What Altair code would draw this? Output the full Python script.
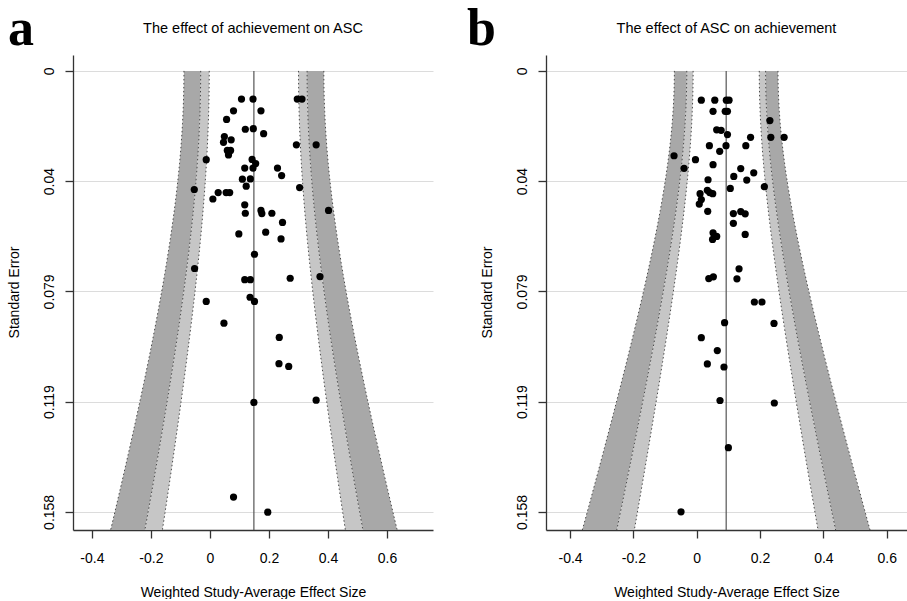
import altair as alt
import pandas as pd
import numpy as np

# ---------------- data ----------------
# Panel a: effect of achievement on ASC
a_x = [0.107, 0.146, 0.296, 0.312, 0.080, 0.173, 0.0565, 0.120, 0.147, 0.182,
       0.049, 0.072, 0.046, 0.293, 0.360, 0.059, 0.070, 0.063, -0.0125, 0.143,
       0.155, 0.118, 0.146, 0.229, 0.243, 0.110, 0.137, 0.123, 0.304, -0.053,
       0.028, 0.055, 0.067, 0.010, 0.118, 0.402, 0.173, 0.176, 0.120, 0.210,
       0.246, 0.098, 0.189, 0.241, 0.151, -0.052, 0.118, 0.137, 0.272, 0.373,
       -0.0125, 0.136, 0.151, 0.0475, 0.235, 0.234, 0.267, 0.149, 0.360, 0.080,
       0.196]
a_se = [0.0101, 0.0101, 0.0101, 0.0101, 0.0143, 0.0143, 0.0174, 0.0209, 0.0207, 0.0225,
        0.0235, 0.0247, 0.0256, 0.0265, 0.0265, 0.0285, 0.0285, 0.0301, 0.0318, 0.0317,
        0.0332, 0.0348, 0.0348, 0.0348, 0.0375, 0.0388, 0.0387, 0.0413, 0.0418, 0.0425,
        0.0436, 0.0436, 0.0436, 0.0459, 0.0480, 0.0500, 0.0500, 0.0511, 0.0510, 0.0510,
        0.0543, 0.0584, 0.0578, 0.0602, 0.0657, 0.0708, 0.0748, 0.0748, 0.0743, 0.0737,
        0.0826, 0.0811, 0.0826, 0.0904, 0.0955, 0.1049, 0.1059, 0.1188, 0.1180, 0.1527,
        0.1581]

# Panel b: effect of ASC on achievement
b_x = [0.0145, 0.057, 0.0935, 0.102, 0.0515, 0.090, 0.097, 0.231, 0.063, 0.077,
       0.097, 0.170, 0.234, 0.276, 0.040, 0.0925, 0.155, 0.0725, -0.0717, -0.004,
       -0.040, 0.0515, 0.139, 0.180, 0.117, 0.158, 0.0357, 0.2135, 0.106, 0.0335,
       0.041, 0.0505, 0.0105, 0.0145, 0.008, 0.0347, 0.1157, 0.139, 0.153, 0.1157,
       0.153, 0.0515, 0.063, 0.050, 0.1336, 0.127, 0.038, 0.0525, 0.182, 0.206,
       0.088, 0.244, 0.0145, 0.065, 0.0335, 0.086, 0.0735, 0.245, 0.100, -0.0496]
b_se = [0.0105, 0.0105, 0.0105, 0.0105, 0.0145, 0.0145, 0.0145, 0.0178, 0.0211, 0.0213,
        0.0228, 0.0238, 0.0238, 0.0238, 0.0268, 0.0268, 0.0268, 0.0288, 0.0304, 0.0318,
        0.0349, 0.0336, 0.0350, 0.0365, 0.0378, 0.0391, 0.0390, 0.0415, 0.0421, 0.0428,
        0.0436, 0.0440, 0.0440, 0.0461, 0.0477, 0.0503, 0.0511, 0.0504, 0.0512, 0.0546,
        0.0586, 0.0580, 0.0593, 0.0604, 0.0709, 0.0745, 0.0744, 0.0738, 0.0828, 0.0828,
        0.0902, 0.0905, 0.0956, 0.1002, 0.1050, 0.1061, 0.1181, 0.1190, 0.1350, 0.1580]

# summary estimates and between-study SD (read from funnel widths)
a_center, a_tau = 0.149, 0.092
b_center, b_tau = 0.093, 0.0635
z_levels = [1.645, 1.96, 2.576]          # 90%, 95%, 99% contours
se_max = 0.1645

titles = ["The effect of achievement on ASC", "The effect of ASC on achievement"]
letters = ["a", "b"]
y_title = "Standard Error"
x_title = "Weighted Study-Average Effect Size"
y_ticks = [0, 0.0395, 0.079, 0.1185, 0.158]
y_tick_labels = ["0", "0.04", "0.079", "0.119", "0.158"]
x_ticks = [-0.4, -0.2, 0, 0.2, 0.4, 0.6]
x_tick_labels = ["-0.4", "-0.2", "0", "0.2", "0.4", "0.6"]

FONT = "Liberation Sans"
DARK = "#a8a8a8"
LIGHT = "#c6c6c6"


def label_expr(vals, labs):
    parts = [f"abs(datum.value - ({v})) < 1e-6 ? '{l}'" for v, l in zip(vals, labs)]
    return " : ".join(parts) + " : ''"


def panel(xs, ses, center, tau, xdom, width, letter, title, letter_dx):
    se_grid = np.linspace(0, se_max, 80)
    dark, light, lines = [], [], []
    for side, sname in ((-1, "L"), (1, "R")):
        b = {z: center + side * z * np.sqrt(se_grid ** 2 + tau ** 2) for z in z_levels}
        for s, e1, e2 in zip(se_grid, b[1.96], b[2.576]):
            dark.append({"se": s, "lo": min(e1, e2), "hi": max(e1, e2), "band": sname})
        for s, e1, e2 in zip(se_grid, b[1.645], b[1.96]):
            light.append({"se": s, "lo": min(e1, e2), "hi": max(e1, e2), "band": sname})
        for z in z_levels:
            for s, v in zip(se_grid, b[z]):
                lines.append({"se": s, "x": v, "line": f"{sname}{z}"})
    dark = pd.DataFrame(dark)
    light = pd.DataFrame(light)
    lines = pd.DataFrame(lines)
    pts = pd.DataFrame({"x": xs, "se": ses})
    rule = pd.DataFrame({"c": [center], "s0": [0.0], "s1": [se_max]})

    xs_ = alt.Scale(domain=xdom, nice=False, zero=False)
    ys_ = alt.Scale(domain=[-0.0057, se_max], reverse=True, nice=False, zero=False)
    xax = alt.Axis(values=x_ticks, labelExpr=label_expr(x_ticks, x_tick_labels),
                   title=x_title, grid=False, tickSize=8, labelPadding=13,
                   titleY=62, titleBaseline="middle", titleX=width / 2, titleAlign="center")
    yax = alt.Axis(values=y_ticks, labelExpr=label_expr(y_ticks, y_tick_labels),
                   title=y_title, grid=True, tickSize=8, labelPadding=12,
                   labelAngle=270, labelAlign="center", labelBaseline="alphabetic",
                   titleX=-59, titleY=237, titleAngle=270, titleBaseline="middle",
                   titleAlign="center")

    def band_layer(df, color):
        return alt.Chart(df).mark_area(orient="horizontal", color=color, opacity=1,
                                       strokeWidth=0).encode(
            y=alt.Y("se:Q", scale=ys_, axis=yax),
            x=alt.X("lo:Q", scale=xs_, axis=xax, stack=None),
            x2="hi:Q",
            detail="band:N",
        )

    line_layer = alt.Chart(lines).mark_line(strokeDash=[1.5, 2.5], strokeWidth=1,
                                            color="#4a4a4a").encode(
        y=alt.Y("se:Q", scale=ys_, axis=yax),
        x=alt.X("x:Q", scale=xs_, axis=xax),
        order="se:Q",
        detail="line:N",
    )
    rule_layer = alt.Chart(rule).mark_rule(color="#555555", strokeWidth=1.2).encode(
        x=alt.X("c:Q", scale=xs_, axis=xax),
        y=alt.Y("s0:Q", scale=ys_, axis=yax),
        y2="s1:Q",
    )
    pt_layer = alt.Chart(pts).mark_circle(size=52, color="black", opacity=1).encode(
        x=alt.X("x:Q", scale=xs_, axis=xax),
        y=alt.Y("se:Q", scale=ys_, axis=yax),
    )
    title_layer = alt.Chart(pd.DataFrame({"t": [title]})).mark_text(
        font=FONT, fontSize=14.5, color="black", align="center", baseline="middle"
    ).encode(x=alt.value(width / 2), y=alt.value(-26), text="t:N")
    letter_layer = alt.Chart(pd.DataFrame({"t": [letter]})).mark_text(
        font="Liberation Serif", fontSize=52, fontWeight="bold", color="black",
        align="left", baseline="alphabetic"
    ).encode(x=alt.value(letter_dx), y=alt.value(-10), text="t:N")

    return alt.layer(band_layer(dark, DARK), band_layer(light, LIGHT), line_layer,
                     rule_layer, pt_layer, title_layer,
                     letter_layer).properties(width=width, height=475)


pa = panel(a_x, a_se, a_center, a_tau, [-0.464, 0.756], 360, letters[0], titles[0], -65)
pb = panel(b_x, b_se, b_center, b_tau, [-0.476, 0.664], 361, letters[1], titles[1], -79)

chart = alt.hconcat(pa, pb, spacing=34).properties(
    padding={"left": 7, "top": 3, "right": 0, "bottom": 0},
    background="white",
).configure_view(stroke=None).configure_axis(
    domainColor="#333333", domainWidth=1.3, tickColor="#333333", tickWidth=1.3,
    labelFont=FONT, labelFontSize=14, labelColor="black",
    titleFont=FONT, titleFontSize=14, titleFontWeight="normal", titleColor="black",
    gridColor="#dcdcdc", gridWidth=1,
)

chart.save("out.html", embed_options={"renderer": "svg", "actions": False})
